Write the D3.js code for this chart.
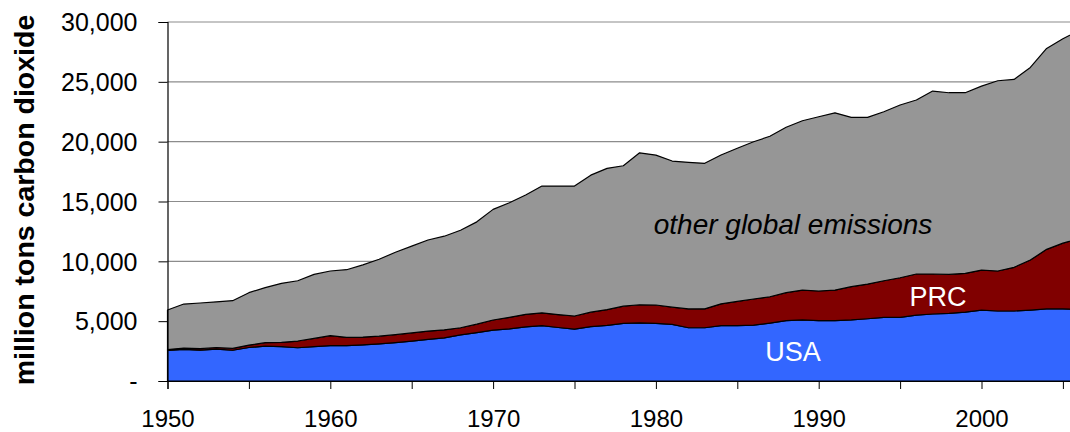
<!DOCTYPE html>
<html>
<head>
<meta charset="utf-8">
<script src="https://cdn.jsdelivr.net/npm/d3@7"></script>
<style>
  html, body { margin: 0; padding: 0; background: #fff; overflow: hidden; }
  svg { display: block; font-family: Arial, "Liberation Sans", Helvetica, sans-serif; }
</style>
</head>
<body>
<script>
// million tons carbon dioxide
const years = d3.range(1950, 2007);

const usa = [
  2550, 2650, 2580, 2670, 2570, 2800, 2920, 2880, 2780, 2870,
  2950, 2950, 3020, 3100, 3200, 3330, 3480, 3600, 3850, 4050,
  4250, 4350, 4520, 4630, 4470, 4340, 4540, 4650, 4820, 4850,
  4820, 4730, 4450, 4450, 4620, 4620, 4670, 4840, 5040, 5100,
  5040, 5040, 5100, 5200, 5320, 5320, 5510, 5600, 5650, 5760,
  5930, 5850, 5850, 5930, 6020, 6020, 5980
];

const prc = [
  80, 100, 120, 130, 150, 200, 280, 350, 560, 690,
  840, 700, 650, 650, 670, 690, 690, 680, 600, 700,
  850, 970, 1050, 1070, 1080, 1090, 1210, 1320, 1430, 1520,
  1530, 1440, 1570, 1580, 1830, 2030, 2180, 2200, 2340, 2500,
  2480, 2560, 2780, 2900, 3060, 3310, 3430, 3340, 3260, 3240,
  3340, 3340, 3650, 4180, 4980, 5500, 5950
];

const other = [
  3300, 3680, 3820, 3820, 3990, 4380, 4600, 4930, 5040, 5350,
  5400, 5650, 6030, 6420, 6890, 7250, 7610, 7820, 8150, 8550,
  9240, 9580, 9970, 10590, 10740, 10860, 11450, 11800, 11740, 12700,
  12530, 12210, 12250, 12160, 12430, 12800, 13140, 13410, 13820, 14150,
  14560, 14810, 14150, 13930, 14120, 14430, 14540, 15290, 15180, 15090,
  15370, 15900, 15700, 16090, 16790, 17080, 17370
];

const seriesKeys = ["usa", "prc", "other"];
const seriesColors = { usa: "#3366ff", prc: "#800000", other: "#969696" };

const yTicks = [0, 5000, 10000, 15000, 20000, 25000, 30000];
const xTicks = d3.range(1950, 2006, 5);
const xLabels = [1950, 1960, 1970, 1980, 1990, 2000];

const width = 1070;
const height = 432;

const svg = d3.select("body").append("svg")
  .attr("width", width)
  .attr("height", height);

// the plot runs past the right edge of the picture (2006 is cut off)
const x = d3.scaleLinear()
  .domain([1950, 2006])
  .range([167.5, 167.5 + 56 * 16.28]);

const y = d3.scaleLinear()
  .domain([0, 30000])
  .range([381, 22]);

const table = years.map((yr, i) => ({ year: yr, usa: usa[i], prc: prc[i], other: other[i] }));
const stacked = d3.stack().keys(seriesKeys)(table);

// gridlines
svg.append("g")
  .selectAll("line")
  .data(yTicks.filter(d => d > 0))
  .join("line")
  .attr("x1", x(1950))
  .attr("x2", width)
  .attr("y1", d => y(d))
  .attr("y2", d => y(d))
  .attr("stroke", "#8c8c8c")
  .attr("stroke-width", 1.2);

const area = d3.area()
  .x(d => x(d.data.year))
  .y0(d => y(d[0]))
  .y1(d => y(d[1]));

svg.append("g")
  .selectAll("path")
  .data(stacked)
  .join("path")
  .attr("d", area)
  .attr("fill", d => seriesColors[d.key])
  .attr("stroke", "#000")
  .attr("stroke-width", 1.2)
  .attr("stroke-linejoin", "round");

// axes
const fmt = d3.format(",");
const yAxis = svg.append("g")
  .attr("transform", `translate(${x(1950)},0)`)
  .call(d3.axisLeft(y).tickValues(yTicks).tickSize(9).tickPadding(21)
    .tickFormat(d => d === 0 ? "-" : fmt(d)));

const xAxis = svg.append("g")
  .attr("transform", `translate(0,${y(0)})`)
  .call(d3.axisBottom(x).tickValues(xTicks).tickSize(8).tickPadding(21)
    .tickFormat(d => xLabels.includes(d) ? String(d) : ""));

[yAxis, xAxis].forEach(ax => {
  ax.select(".domain").attr("stroke", "#000").attr("stroke-width", 1.2);
  ax.selectAll(".tick line").attr("stroke", "#000").attr("stroke-width", 1);
  ax.selectAll(".tick text")
    .attr("fill", "#000")
    .style("font-size", "24px")
    .style("font-family", "Arial, 'Liberation Sans', sans-serif");
});
yAxis.selectAll(".tick text").attr("dy", "0.35em").style("font-size", "25px");

// axis title
svg.append("text")
  .attr("transform", "translate(34,200) rotate(-90)")
  .attr("text-anchor", "middle")
  .style("font-size", "28.5px")
  .style("font-weight", "bold")
  .text("million tons carbon dioxide");

// series labels
svg.append("text")
  .attr("x", 793)
  .attr("y", 234)
  .attr("text-anchor", "middle")
  .style("font-size", "28px")
  .style("font-style", "italic")
  .attr("fill", "#000")
  .text("other global emissions");

svg.append("text")
  .attr("x", 938)
  .attr("y", 306)
  .attr("text-anchor", "middle")
  .style("font-size", "27px")
  .attr("fill", "#fff")
  .text("PRC");

svg.append("text")
  .attr("x", 793)
  .attr("y", 361)
  .attr("text-anchor", "middle")
  .style("font-size", "27px")
  .attr("fill", "#fff")
  .text("USA");
</script>
</body>
</html>
